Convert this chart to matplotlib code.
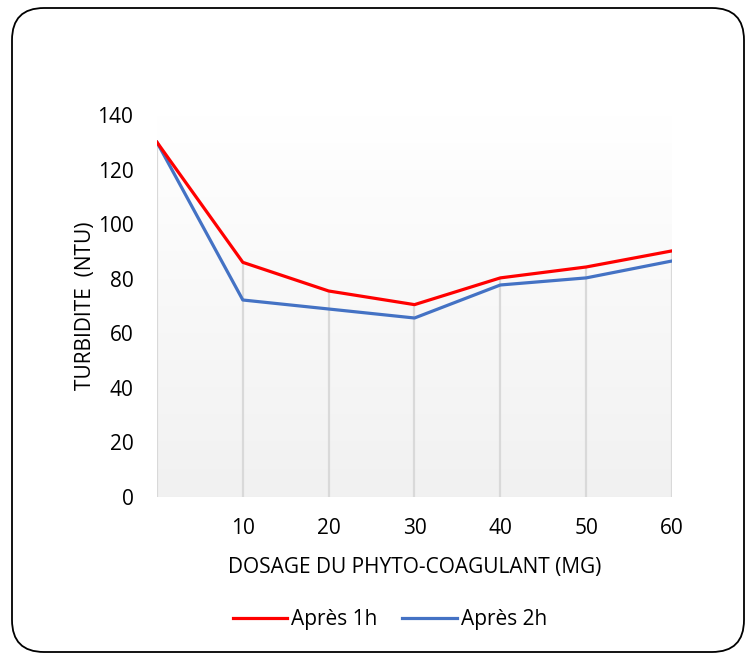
import numpy as np
import matplotlib
matplotlib.use("Agg")
import matplotlib.pyplot as plt
from matplotlib.patches import FancyBboxPatch

# ----------------------------
# Data
# ----------------------------
dosage_labels = ["", "10", "20", "30", "40", "50", "60"]
apres_1h = [130, 86, 75.5, 70.5, 80.3, 84.3, 90.2]
apres_2h = [130, 72.2, 68.9, 65.6, 77.7, 80.3, 86.5]

plt.rcParams['font.family'] = ['Open Sans', 'DejaVu Sans']

W, H = 747, 655
fig = plt.figure(figsize=(W / 100, H / 100), dpi=100)

# rounded frame around the chart
frame = FancyBboxPatch((12 / 100, 3 / 100), 732 / 100, 644 / 100,
                       boxstyle="round,pad=0,rounding_size=0.32",
                       transform=fig.dpi_scale_trans,
                       facecolor="none", edgecolor="black", linewidth=1.3,
                       zorder=5)
fig.patches.append(frame)

left, right = 157 / W, 672 / W
bottom, top = (H - 497) / H, (H - 115) / H
ax = fig.add_axes([left, bottom, right - left, top - bottom])
ax.patch.set_alpha(0)

x = np.arange(len(dosage_labels))

# gradient background, white at top to light grey at bottom
grad = np.linspace(1.0, 0.0, 256).reshape(-1, 1)
c_top = np.array([1.0, 1.0, 1.0])
c_bot = np.array([0.945, 0.945, 0.945])
img = c_bot + (c_top - c_bot) * grad[..., None]
img = np.repeat(img, 2, axis=1)
ax.imshow(img, extent=[0, 1, 0, 1], transform=ax.transAxes,
          aspect='auto', zorder=0)

# drop lines
tops = np.maximum(apres_1h, apres_2h)
ax.vlines(x, 0, tops, color="#d9d9d9", linewidth=1.6, zorder=1)

ax.plot(x, apres_1h, color="#ff0000", linewidth=2.3, label="Après 1h",
        zorder=3, solid_joinstyle="round")
ax.plot(x, apres_2h, color="#4472c4", linewidth=2.3, label="Après 2h",
        zorder=2, solid_joinstyle="round")

ax.set_xlim(0, len(dosage_labels) - 1)
ax.set_ylim(0, 140)
ax.set_yticks(range(0, 141, 20))
ax.set_xticks(x)
ax.set_xticklabels(dosage_labels)
ax.tick_params(length=0, labelsize=15, colors="#000000")
ax.tick_params(axis='y', pad=17)
ax.tick_params(axis='x', pad=15)
for s in ax.spines.values():
    s.set_visible(False)

ax.set_ylabel("TURBIDITE  (NTU)", fontsize=15, labelpad=1)
ax.set_xlabel("DOSAGE DU PHYTO-COAGULANT (MG)", fontsize=15, labelpad=13)

fig.legend(loc="center", bbox_to_anchor=(0.522, (H - 620) / H), ncol=2,
           frameon=False, fontsize=15, handlelength=2.6, handletextpad=0.2,
           columnspacing=1.2)

fig.savefig("out.png", dpi=100)
